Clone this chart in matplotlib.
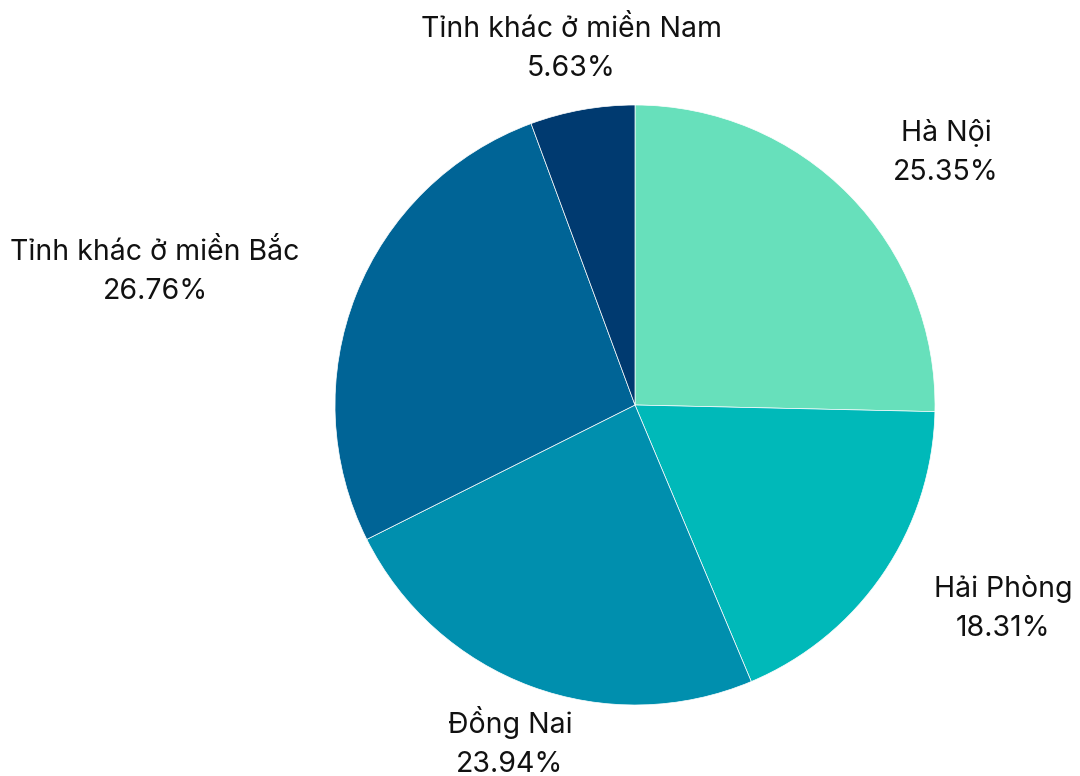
import numpy as np
import matplotlib.pyplot as plt

plt.rcParams['font.family'] = ['Inter', 'DejaVu Sans']

labels = ['Hà Nội', 'Hải Phòng', 'Đồng Nai', 'Tỉnh khác ở miền Bắc', 'Tỉnh khác ở miền Nam']
values = [25.35, 18.31, 23.94, 26.76, 5.63]
colors = ['#67E0BB', '#00B9B9', '#008FAE', '#006496', '#003A70']
# where each label block sits (data units, pie radius = 1)
label_pos = [(1.037, 0.843), (1.227, -0.677), (-0.417, -1.123), (-1.6, 0.443), (-0.213, 1.187)]

fig = plt.figure(figsize=(10.8, 7.76), dpi=100)
ax = fig.add_axes([0, 0, 1, 1])

ax.pie(values, colors=colors, startangle=90, counterclock=False, radius=1,
       wedgeprops=dict(edgecolor='white', linewidth=0.5))

for name, v, (x, y) in zip(labels, values, label_pos):
    ax.text(x, y, '%s\n%.2f%%' % (name, v), ha='center', va='center',
            fontsize=20.5, color='#111111', linespacing=1.58)

ax.set_xlim(-635 / 300, (1080 - 635) / 300)
ax.set_ylim(-371 / 300, 405 / 300)
ax.set_aspect('equal')
ax.axis('off')

fig.savefig('out.png', dpi=100)
